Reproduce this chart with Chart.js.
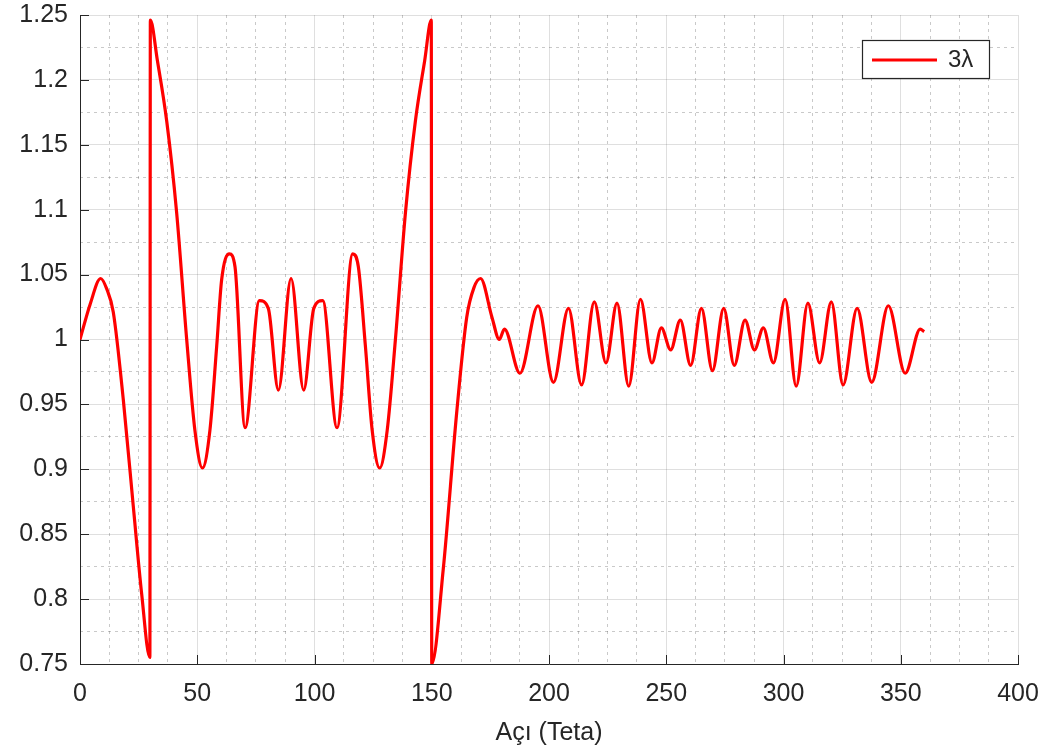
<!DOCTYPE html>
<html>
<head>
<meta charset="utf-8">
<script src="https://cdn.jsdelivr.net/npm/chart.js@4/dist/chart.umd.min.js"></script>
<style>
  html, body { margin: 0; padding: 0; background: #fff; }
  #wrap { width: 1058px; height: 756px; position: relative; }
</style>
</head>
<body>
<div id="wrap"><canvas id="gainChart"></canvas></div>
<script>
// veriler
const angle = [0, 4.3, 8.8, 11.4, 14.2, 18.5, 22.7, 26.3, 29.8, 30.0,
  33.0, 37.0, 41.2, 45.5, 49.0, 52.2, 55.4, 58.3, 60.4, 63.7,
  66.1, 70.4, 76.5, 80.3, 84.6, 90.0, 95.4, 99.7, 103.5, 109.6,
  116.3, 118.7, 121.7, 124.6, 127.8, 131.0, 134.5, 138.8, 143.0, 147.0,
  149.8, 150.0, 154.9, 160.6, 164.9, 168.0, 170.8, 175.7, 178.8, 181.0,
  187.6, 195.3, 201.9, 208.3, 213.9, 219.3, 224.3, 229.0, 234.0, 239.0,
  243.9, 247.9, 251.9, 256.0, 260.4, 265.0, 269.7, 274.5, 279.0, 283.6,
  287.6, 291.4, 295.7, 300.7, 305.4, 310.4, 315.4, 320.4, 325.4, 331.4,
  337.6, 344.7, 351.9, 358.3, 360.0];
const gain = [1.000, 1.027, 1.047, 1.039, 1.021, 0.953, 0.872, 0.804, 0.755, 1.246,
  1.215, 1.168, 1.098, 1.000, 0.930, 0.901, 0.930, 0.995, 1.046, 1.066,
  1.056, 0.932, 1.030, 1.024, 0.961, 1.047, 0.961, 1.024, 1.030, 0.932,
  1.066, 1.056, 0.995, 0.930, 0.901, 0.930, 1.000, 1.098, 1.168, 1.215,
  1.246, 0.750, 0.823, 0.943, 1.017, 1.040, 1.047, 1.017, 1.000, 1.008,
  0.974, 1.026, 0.967, 1.024, 0.965, 1.029, 0.982, 1.028, 0.964, 1.031,
  0.982, 1.009, 0.992, 1.015, 0.980, 1.024, 0.976, 1.024, 0.980, 1.015,
  0.992, 1.009, 0.982, 1.031, 0.964, 1.028, 0.982, 1.029, 0.965, 1.024,
  0.967, 1.026, 0.974, 1.008, 1.006];
const xTickLabels = ['0', '50', '100', '150', '200', '250', '300', '350', '400'];
const yTickLabels = ['0.75', '0.8', '0.85', '0.9', '0.95', '1', '1.05', '1.1', '1.15', '1.2', '1.25'];
const seriesName = '3\u03bb';

const textColor = '#262626';
const majorGrid = 'rgba(38,38,38,0.15)';
const minorGrid = 'rgba(38,38,38,0.25)';
const tickFont = { family: '"Liberation Sans", Arial, sans-serif', size: 25 };

// ana çizgilerin üstüne noktalı çizgi gelmesin
const minorColor = step => ctx => {
  const v = ctx.tick ? ctx.tick.value : 0;
  const r = v / step;
  return Math.abs(r - Math.round(r)) < 1e-6 ? 'rgba(0,0,0,0)' : minorGrid;
};

// MATLAB tarzı içe doğru tik çizgileri
const innerTicks = {
  id: 'innerTicks',
  beforeDatasetsDraw(chart) {
    const { ctx, chartArea, scales } = chart;
    ctx.save();
    ctx.strokeStyle = textColor;
    ctx.lineWidth = 1;
    ctx.beginPath();
    scales.x.ticks.forEach(t => {
      const px = Math.round(scales.x.getPixelForValue(t.value)) + 0.5;
      ctx.moveTo(px, chartArea.bottom);
      ctx.lineTo(px, chartArea.bottom - 9);
    });
    scales.y.ticks.forEach(t => {
      const py = Math.round(scales.y.getPixelForValue(t.value)) + 0.5;
      ctx.moveTo(chartArea.left, py);
      ctx.lineTo(chartArea.left + 9, py);
    });
    ctx.stroke();
    ctx.restore();
  }
};

// çerçeveli lejant
const boxLegend = {
  id: 'boxLegend',
  afterDraw(chart) {
    const { ctx, chartArea } = chart;
    const ds = chart.data.datasets[0];
    const w = 127, h = 38;
    const x = chartArea.right - 156, y = chartArea.top + 25;
    ctx.save();
    ctx.fillStyle = '#fff';
    ctx.fillRect(x, y, w, h);
    ctx.strokeStyle = textColor;
    ctx.lineWidth = 1.2;
    ctx.strokeRect(x + 0.5, y + 0.5, w, h);
    ctx.strokeStyle = ds.borderColor;
    ctx.lineWidth = ds.borderWidth;
    ctx.beginPath();
    ctx.moveTo(x + 10, y + h / 2 + 1);
    ctx.lineTo(x + 75, y + h / 2 + 1);
    ctx.stroke();
    ctx.fillStyle = textColor;
    ctx.font = '24px "Liberation Sans", Arial, sans-serif';
    ctx.textBaseline = 'middle';
    ctx.fillText(ds.label, x + 86, y + h / 2 + 1);
    ctx.restore();
  }
};

const points = angle.map((a, i) => ({ x: a, y: gain[i] }));

new Chart(document.getElementById('gainChart'), {
  type: 'line',
  data: {
    datasets: [{
      label: seriesName,
      data: points,
      borderColor: '#ff0000',
      borderWidth: 3.2,
      pointRadius: 0,
      fill: false,
      cubicInterpolationMode: 'monotone'
    }]
  },
  options: {
    responsive: true,
    maintainAspectRatio: false,
    animation: false,
    layout: { padding: { top: 15, right: 40, left: 0, bottom: 0 } },
    plugins: { legend: { display: false }, tooltip: { enabled: false } },
    scales: {
      xMinor: {
        type: 'linear', position: 'bottom', min: 0, max: 400,
        ticks: { display: false, stepSize: 12.5 },
        grid: { color: minorColor(50), drawTicks: false, lineWidth: 1 },
        border: { display: false, dash: [3, 4] }
      },
      yMinor: {
        type: 'linear', position: 'left', min: 0.75, max: 1.25,
        ticks: { display: false, stepSize: 0.025 },
        grid: { color: minorColor(0.05), drawTicks: false, lineWidth: 1 },
        border: { display: false, dash: [3, 4] }
      },
      x: {
        type: 'linear', position: 'bottom', min: 0, max: 400,
        ticks: {
          stepSize: 50, color: textColor, font: tickFont, padding: 15, maxRotation: 0,
          callback: v => xTickLabels[Math.round(v / 50)]
        },
        grid: { color: majorGrid, drawTicks: false, lineWidth: 1 },
        border: { color: textColor, width: 1 },
        title: { display: true, text: 'Açı (Teta)', color: textColor, font: tickFont, padding: { top: 0, bottom: 8 } },
        afterFit: s => { s.height = 92; }
      },
      y: {
        type: 'linear', position: 'left', min: 0.75, max: 1.25,
        ticks: {
          stepSize: 0.05, color: textColor, font: tickFont, padding: 12,
          callback: v => yTickLabels[Math.round((v - 0.75) / 0.05)]
        },
        grid: { color: majorGrid, drawTicks: false, lineWidth: 1 },
        border: { color: textColor, width: 1 },
        afterFit: s => { s.width = 80; s.paddingTop = 0; s.paddingBottom = 0; }
      }
    }
  },
  plugins: [innerTicks, boxLegend]
});
</script>
</body>
</html>
